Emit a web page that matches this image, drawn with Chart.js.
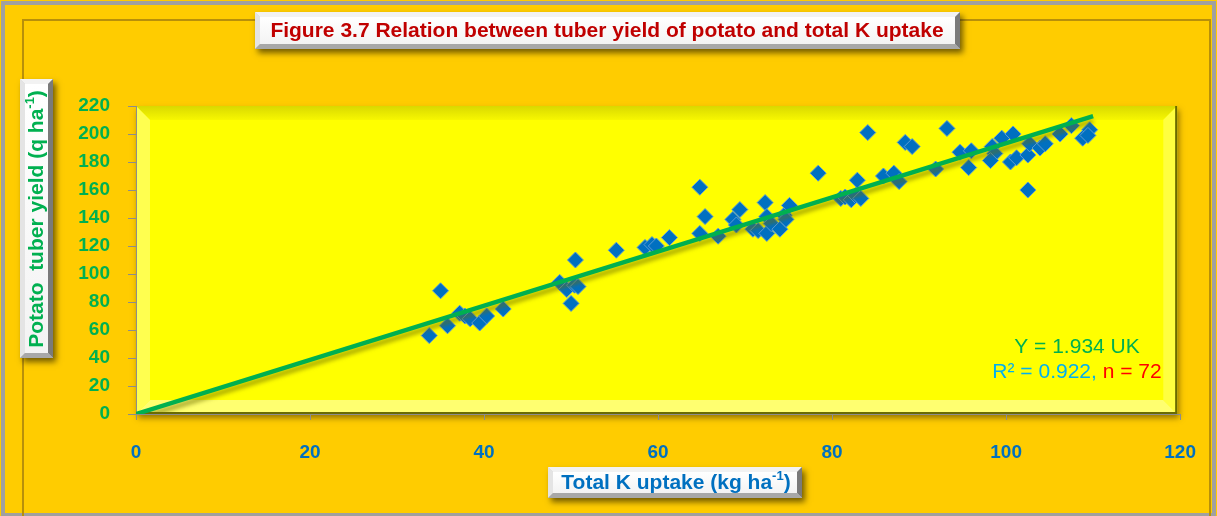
<!DOCTYPE html>
<html>
<head>
<meta charset="utf-8">
<script src="https://cdn.jsdelivr.net/npm/chart.js@4.4.0/dist/chart.umd.min.js"></script>
<style>
    html, body { margin: 0; padding: 0; background: #ffffff; }
    #wrap { width: 1217px; height: 516px; }
</style>
</head>
<body>
<div id="wrap"><canvas id="chart" width="1217" height="516"></canvas></div>
<script>
// Total K uptake (kg/ha) vs potato tuber yield (q/ha)
const kUptake = [33.7, 35.0, 35.8, 37.2, 37.8, 38.4, 39.5, 40.3, 42.2, 48.7, 49.5, 50.0, 50.4, 50.8, 50.5,
    55.2, 58.5, 59.3, 59.8, 61.3, 64.8, 65.4, 64.8, 66.9, 68.6, 69.4, 69.0, 70.9, 71.5, 72.3, 72.5, 72.5,
    73.0, 74.0, 74.5, 74.7, 75.1, 78.4, 81.0, 81.5, 82.2, 82.7, 82.9, 83.3, 84.1, 85.9, 87.1, 87.7, 88.4,
    89.2, 91.9, 93.2, 94.7, 95.7, 96.0, 98.4, 98.7, 98.2, 99.5, 100.8, 100.5, 101.2, 102.5, 102.7, 103.9,
    104.5, 102.5, 106.2, 107.5, 108.8, 109.6, 109.4];
const tuberYield = [56, 88, 63, 72, 70, 68, 65, 70, 75, 94, 89, 79, 92, 91, 110,
    117, 119, 121, 120, 126, 162, 141, 129, 127, 139, 146, 135, 132, 131, 151, 141, 129,
    136, 132, 142, 139, 149, 172, 154, 155, 153, 156, 167, 154, 201, 170, 172, 166, 194,
    191, 175, 204, 187, 176, 188, 191, 186, 181, 197, 200, 180, 183, 185, 193, 190,
    193, 160, 200, 206, 197, 203, 199];

// fitted line Y = 1.934 UK, end points as drawn
const trendX = [0, 110];
const trendY = [0, 212.7];

const titleText = 'Figure 3.7 Relation between tuber yield of potato and total K uptake';
const yTitle = 'Potato  tuber yield (q ha';
const xTitle = 'Total K uptake (kg ha';
const eqText = 'Y = 1.934 UK';
const r2Text = 'R² = 0.922, ';
const nText = 'n = 72';

const FONT = "'Liberation Sans', Arial, sans-serif";
const GREEN = '#00B050';
const BLUE = '#0070C0';

function poly(ctx, pts, color) {
    ctx.fillStyle = color;
    ctx.beginPath();
    ctx.moveTo(pts[0], pts[1]);
    for (let i = 2; i < pts.length; i += 2) ctx.lineTo(pts[i], pts[i + 1]);
    ctx.closePath();
    ctx.fill();
}

function drawButton(ctx, x, y, w, h) {
    ctx.save();
    ctx.shadowColor = 'rgba(0,0,0,0.55)';
    ctx.shadowBlur = 6;
    ctx.shadowOffsetX = 3;
    ctx.shadowOffsetY = 4;
    ctx.fillStyle = '#d0d0d0';
    ctx.fillRect(x, y, w, h);
    ctx.restore();

    let b = 5;
    poly(ctx, [x, y, x + w, y, x + w - b, y + b, x + b, y + b], '#f2f2f2');
    poly(ctx, [x, y, x + b, y + b, x + b, y + h - b, x, y + h], '#e4e4e4');
    poly(ctx, [x + w, y, x + w, y + h, x + w - b, y + h - b, x + w - b, y + b], '#7a7a7a');
    poly(ctx, [x, y + h, x + w, y + h, x + w - b, y + h - b, x + b, y + h - b], '#a8a8a8');

    let g = ctx.createLinearGradient(0, y + b, 0, y + h - b);
    g.addColorStop(0, '#ffffff');
    g.addColorStop(1, '#f3f3f3');
    ctx.fillStyle = g;
    ctx.fillRect(x + b, y + b, w - 2 * b, h - 2 * b);
}

// text with a "-1" superscript at the end, centred on (cx, cy)
function drawUnitText(ctx, text, cx, cy, size, color) {
    ctx.font = `bold ${size}px ${FONT}`;
    let w1 = ctx.measureText(text).width;
    ctx.font = `bold ${Math.round(size * 0.62)}px ${FONT}`;
    let w2 = ctx.measureText('-1').width;
    ctx.font = `bold ${size}px ${FONT}`;
    let w3 = ctx.measureText(')').width;
    let x = cx - (w1 + w2 + w3) / 2;

    ctx.fillStyle = color;
    ctx.textBaseline = 'middle';
    ctx.textAlign = 'left';
    ctx.fillText(text, x, cy);
    ctx.font = `bold ${Math.round(size * 0.62)}px ${FONT}`;
    ctx.fillText('-1', x + w1, cy - size * 0.3);
    ctx.font = `bold ${size}px ${FONT}`;
    ctx.fillText(')', x + w1 + w2, cy);
}

const backdrop = {
    id: 'backdrop',
    beforeDraw(chart) {
        const ctx = chart.ctx;
        const {left, top, right, bottom} = chart.chartArea;
        ctx.save();

        // gold page with frames
        ctx.fillStyle = '#FFCC00';
        ctx.fillRect(0, 0, chart.width, chart.height);
        ctx.strokeStyle = '#a0a0a0';
        ctx.lineWidth = 4;
        ctx.strokeRect(3, 3, chart.width - 6, chart.height - 4);
        ctx.strokeStyle = '#b8900a';
        ctx.lineWidth = 2;
        ctx.strokeRect(23, 20, chart.width - 30, chart.height - 10);

        // yellow panel behind the plot
        ctx.save();
        ctx.shadowColor = 'rgba(90,70,0,0.65)';
        ctx.shadowBlur = 6;
        ctx.shadowOffsetX = 2;
        ctx.shadowOffsetY = 4;
        ctx.fillStyle = '#FFFF00';
        ctx.fillRect(left, top, right - left - 3, bottom - top);
        ctx.restore();

        let r = right - 3;
        let b = 14;
        let g = ctx.createLinearGradient(0, top, 0, top + b);
        g.addColorStop(0, '#d9d900');
        g.addColorStop(1, '#f7f700');
        poly(ctx, [left, top, r, top, r - b, top + b, left + b, top + b], g);
        poly(ctx, [left, top, left + b, top + b, left + b, bottom - b, left, bottom], '#ffff50');
        poly(ctx, [r, top, r, bottom, r - b, bottom - b, r - b, top + b], '#ffff40');
        poly(ctx, [left, bottom, r, bottom, r - b, bottom - b, left + b, bottom - b], '#ffff70');
        ctx.fillStyle = '#FFFF00';
        ctx.fillRect(left + b, top + b, r - left - 2 * b, bottom - top - 2 * b);
        ctx.fillStyle = '#6a6a00';
        ctx.fillRect(r - 2, top, 2, bottom - top);
        ctx.fillRect(left, bottom - 2, r - left, 2);

        // title and axis title buttons
        drawButton(ctx, 255, 12, 705, 37);
        ctx.font = `bold 21px ${FONT}`;
        ctx.fillStyle = '#C00000';
        ctx.textAlign = 'center';
        ctx.textBaseline = 'middle';
        ctx.fillText(titleText, 607, 31);

        drawButton(ctx, 548, 467, 254, 31);
        drawUnitText(ctx, xTitle, 676, 483, 21, BLUE);

        drawButton(ctx, 20, 79, 33, 279);
        ctx.save();
        ctx.translate(37, 219);
        ctx.rotate(-Math.PI / 2);
        drawUnitText(ctx, yTitle, 0, 0, 21, GREEN);
        ctx.restore();

        ctx.restore();
    },
    beforeDatasetDraw(chart, args) {
        if (args.index !== 0) return;
        const ctx = chart.ctx;
        ctx.save();
        ctx.shadowColor = 'rgba(110,110,0,0.6)';
        ctx.shadowBlur = 4;
        ctx.shadowOffsetY = 5;
    },
    afterDatasetDraw(chart, args) {
        if (args.index === 0) chart.ctx.restore();
    },
    afterDatasetsDraw(chart) {
        const ctx = chart.ctx;
        ctx.save();
        ctx.textBaseline = 'middle';
        ctx.textAlign = 'center';
        ctx.font = `21px ${FONT}`;
        ctx.fillStyle = GREEN;
        ctx.fillText(eqText, 1077, 347);

        let w1 = ctx.measureText(r2Text).width;
        let w2 = ctx.measureText(nText).width;
        let x = 1077 - (w1 + w2) / 2;
        ctx.textAlign = 'left';
        ctx.fillStyle = '#00B0F0';
        ctx.fillText(r2Text, x, 372);
        ctx.fillStyle = '#FF0000';
        ctx.fillText(nText, x + w1, 372);
        ctx.restore();
    }
};

const ctx = document.getElementById('chart').getContext('2d');

new Chart(ctx, {
    data: {
        datasets: [{
            type: 'line',
            label: 'Fit',
            data: trendX.map((x, i) => ({x: x, y: trendY[i]})),
            borderColor: GREEN,
            borderWidth: 4.5,
            pointRadius: 0,
            fill: false,
            order: 0
        }, {
            type: 'scatter',
            label: 'Observed',
            data: kUptake.map((x, i) => ({x: x, y: tuberYield[i]})),
            pointStyle: 'rectRot',
            pointRadius: 8,
            pointHoverRadius: 8,
            backgroundColor: '#0070C0',
            borderColor: '#5b9bd5',
            borderWidth: 1,
            order: 1
        }]
    },
    options: {
        responsive: false,
        devicePixelRatio: 1,
        animation: false,
        layout: {padding: {left: 0, top: 106, right: 32, bottom: 0}},
        plugins: {
            legend: {display: false},
            title: {display: false},
            tooltip: {enabled: false}
        },
        scales: {
            x: {
                type: 'linear',
                min: 0,
                max: 120,
                afterFit: function(scale) { scale.height = 102; },
                ticks: {
                    stepSize: 20,
                    padding: 21,
                    color: BLUE,
                    font: {family: FONT, size: 19, weight: 'bold'}
                },
                grid: {drawOnChartArea: false, color: '#8c8c8c', tickLength: 6},
                border: {color: '#8c8c8c', width: 1}
            },
            y: {
                min: 0,
                max: 220,
                afterFit: function(scale) { scale.width = 136; },
                ticks: {
                    stepSize: 20,
                    padding: 18,
                    color: GREEN,
                    font: {family: FONT, size: 19, weight: 'bold'}
                },
                grid: {drawOnChartArea: false, color: '#8c8c8c', tickLength: 8},
                border: {color: '#8c8c8c', width: 1}
            }
        }
    },
    plugins: [backdrop]
});
</script>
</body>
</html>
